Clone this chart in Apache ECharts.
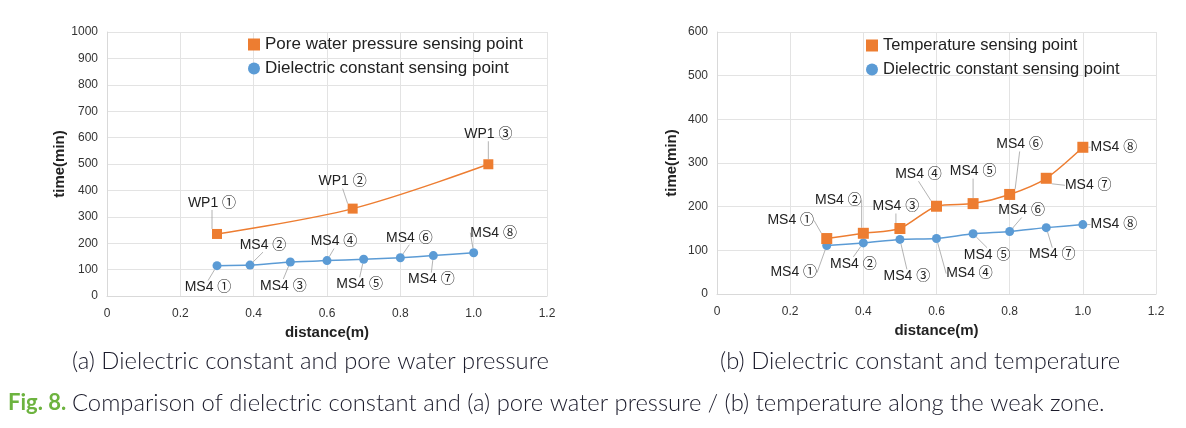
<!DOCTYPE html>
<html>
<head>
<meta charset="utf-8">
<script src="https://cdn.jsdelivr.net/npm/echarts@6/dist/echarts.min.js"></script>
<style>
html,body{margin:0;padding:0;background:#fff;}
#c{width:1186px;height:428px;}
</style>
</head>
<body>
<div id="c"></div>
<script>
// ---- data ----
const nameWP = 'Pore water pressure sensing point';
const nameTemp = 'Temperature sensing point';
const nameDC = 'Dielectric constant sensing point';

const aWpDist = [0.30, 0.67, 1.04];
const aWpTime = [235, 331, 499];
const aWpLabels = ['WP1 ①', 'WP1 ②', 'WP1 ③'];

const aMsDist = [0.30, 0.39, 0.50, 0.60, 0.70, 0.80, 0.89, 1.00];
const aMsTime = [115, 117, 129, 134, 139, 145, 153, 164];
const msLabels = ['MS4 ①', 'MS4 ②', 'MS4 ③', 'MS4 ④', 'MS4 ⑤', 'MS4 ⑥', 'MS4 ⑦', 'MS4 ⑧'];

const bDist = [0.30, 0.40, 0.50, 0.60, 0.70, 0.80, 0.90, 1.00];
const bTempTime = [127, 139, 150, 201, 207, 228, 265, 336];
const bMsTime = [111, 117, 125, 127, 138, 143, 152, 159];

const xTicksMax = 1.2;
const aYMax = 1000, aYStep = 100;
const bYMax = 600, bYStep = 100;

// label offsets (dx, dy) from each point
const offAWp = [[-5, -31], [-10, -27], [0, -30]];
const offAMs = [[-9, 22], [13, -20], [-7, 24], [7, -19], [-4, 25], [9, -20], [-2, 24], [20, -20]];
const offBTemp = [[-36, -18], [-25, -33], [-4, -22], [-18, -32], [0, -32], [10, -50], [42, 7], [31, 0]];
const offBMs = [[-33, 27], [-10, 21], [7, 37], [33, 35], [14, 21], [12, -21], [6, 27], [31, 0]];

const ORANGE = '#ED7D31', BLUE = '#5B9BD5';
const FONT = 'Liberation Sans, Arial, sans-serif';
const LFONT = 'Liberation Sans, "Noto Sans CJK KR", sans-serif';
const CFONT = 'Lato, "Noto Sans", sans-serif';

function pairs(xs, ys) { return xs.map((x, i) => [x, ys[i]]); }

const chart = echarts.init(document.getElementById('c'), null, {renderer: 'canvas'});

function xAxis(gi) {
  return {
    type: 'value', gridIndex: gi, min: 0, max: xTicksMax, interval: 0.2,
    name: 'distance(m)', nameLocation: 'middle', nameGap: 26,
    nameTextStyle: {fontFamily: FONT, fontSize: 15, fontWeight: 'bold', color: '#222'},
    axisLine: {show: true, lineStyle: {color: '#d9d9d9', width: 1}},
    axisTick: {show: false},
    axisLabel: {fontFamily: FONT, fontSize: 12, color: '#333', margin: 12,
      formatter: v => v === 0 ? '0' : v.toFixed(1)},
    splitLine: {show: true, lineStyle: {color: '#e3e3e3', width: 1}}
  };
}
function yAxis(gi, max, step, gap) {
  return {
    type: 'value', gridIndex: gi, min: 0, max: max, interval: step,
    name: 'time(min)', nameLocation: 'middle', nameGap: gap, nameRotate: 90,
    nameTextStyle: {fontFamily: FONT, fontSize: 15, fontWeight: 'bold', color: '#222'},
    axisLine: {show: true, lineStyle: {color: '#d9d9d9', width: 1}},
    axisTick: {show: false},
    axisLabel: {fontFamily: FONT, fontSize: 12, color: '#333', margin: 9,
      formatter: v => String(v)},
    splitLine: {show: true, lineStyle: {color: '#e3e3e3', width: 1}}
  };
}

function series(name, gi, xs, ys, labels, offs, color, symbol, size, smooth) {
  return {
    name: name, type: 'line', xAxisIndex: gi, yAxisIndex: gi,
    data: pairs(xs, ys), smooth: smooth,
    symbol: symbol, symbolSize: size, showAllSymbol: true,
    lineStyle: {color: color, width: 1.5},
    itemStyle: {color: color},
    label: {show: true, position: 'inside', fontFamily: LFONT, fontSize: 14, color: '#222',
      formatter: p => labels[p.dataIndex]},
    labelLine: {show: true, smooth: false, lineStyle: {color: '#a0a0a0', width: 0.8}},
    labelLayout: p => ({dx: offs[p.dataIndex][0], dy: offs[p.dataIndex][1], hideOverlap: false}),
    emphasis: {disabled: true},
    z: symbol === 'rect' ? 3 : 2
  };
}

const option = {
  animation: false,
  backgroundColor: '#fff',
  grid: [
    {left: 107, top: 32, width: 440, height: 264},
    {left: 717, top: 32, width: 439, height: 262}
  ],
  xAxis: [xAxis(0), xAxis(1)],
  yAxis: [yAxis(0, aYMax, aYStep, 33), yAxis(1, bYMax, bYStep, 38)],
  legend: [
    {left: 243, top: 31, orient: 'vertical', itemWidth: 12, itemHeight: 12, itemGap: 7,
      textStyle: {fontFamily: FONT, fontSize: 17, color: '#222'},
      data: [{name: nameWP, icon: 'rect'}, {name: nameDC, icon: 'circle'}]},
    {left: 861, top: 32, orient: 'vertical', itemWidth: 12, itemHeight: 12, itemGap: 7,
      textStyle: {fontFamily: FONT, fontSize: 16.5, color: '#222'},
      data: [{name: nameTemp, icon: 'rect'}, {name: nameDC, icon: 'circle'}]}
  ],
  series: [
    series(nameWP, 0, aWpDist, aWpTime, aWpLabels, offAWp, ORANGE, 'rect', 10, 0.35),
    series(nameDC, 0, aMsDist, aMsTime, msLabels, offAMs, BLUE, 'circle', 9, 0.2),
    series(nameTemp, 1, bDist, bTempTime, msLabels, offBTemp, ORANGE, 'rect', 11, 0.25),
    series(nameDC, 1, bDist, bMsTime, msLabels, offBMs, BLUE, 'circle', 9, 0.2)
  ],
  graphic: [
    {type: 'text', left: 72, top: 349, style: {text: '(a) Dielectric constant and pore water pressure',
      font: '300 23.8px ' + CFONT, fill: '#1a1a2a'}},
    {type: 'text', left: 720, top: 349, style: {text: '(b) Dielectric constant and temperature',
      font: '300 23.8px ' + CFONT, fill: '#1a1a2a'}},
    {type: 'text', left: 8, top: 392, style: {text: 'Fig. 8.',
      font: 'bold 22px ' + CFONT, fill: '#6DB33F'}},
    {type: 'text', left: 72, top: 391, style: {text: 'Comparison of dielectric constant and (a) pore water pressure / (b) temperature along the weak zone.',
      font: '300 23.8px ' + CFONT, fill: '#1a1a2a'}}
  ]
};
chart.setOption(option);
</script>
</body>
</html>
